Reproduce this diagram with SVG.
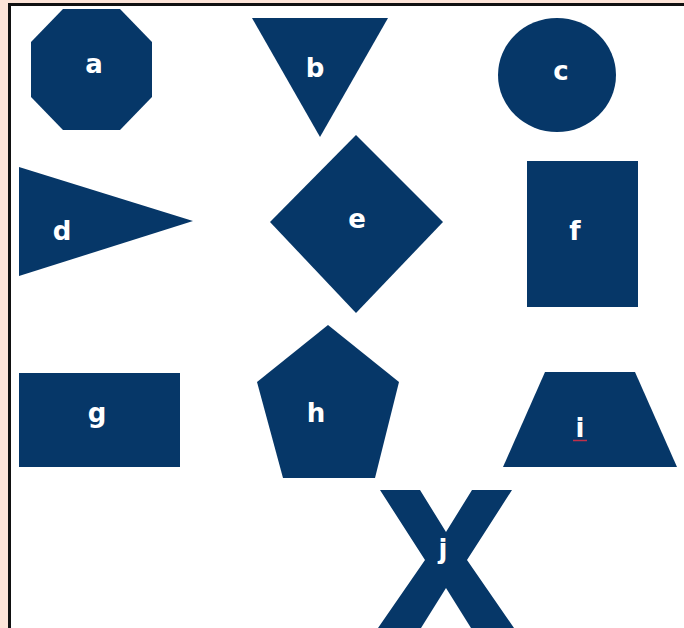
<svg xmlns="http://www.w3.org/2000/svg" width="684" height="628" viewBox="0 0 684 628">
  <style>
    .shape { fill: #063768; }
    .lbl { fill: #ffffff; font-family: "Comic Sans MS", "DejaVu Sans", sans-serif; font-weight: bold; font-size: 26px; text-anchor: middle; }
  </style>
  <rect x="0" y="0" width="684" height="628" fill="#fde4d8"/>
  <rect x="11" y="6" width="673" height="622" fill="#ffffff"/>
  <path d="M9.5,628 V4.5 H684" fill="none" stroke="#111111" stroke-width="3"/>
  <g id="connectors"/>
  <g id="a">
    <polygon class="shape" points="63,9 120,9 152,42 152,97 120,130 63,130 31,97 31,42"/>
    <text class="lbl" x="94" y="73">a</text>
  </g>
  <g id="b">
    <polygon class="shape" points="252,18 388,18 320,137"/>
    <text class="lbl" x="315" y="77">b</text>
  </g>
  <g id="c">
    <ellipse class="shape" cx="557" cy="75" rx="59" ry="57"/>
    <text class="lbl" x="561" y="80">c</text>
  </g>
  <g id="d">
    <polygon class="shape" points="19,167 193,221 19,276"/>
    <text class="lbl" x="62" y="240">d</text>
  </g>
  <g id="e">
    <polygon class="shape" points="356,135 443,222 356,313 270,222"/>
    <text class="lbl" x="357" y="228">e</text>
  </g>
  <g id="f">
    <rect class="shape" x="527" y="161" width="111" height="146"/>
    <text class="lbl" x="575" y="240">f</text>
  </g>
  <g id="g">
    <rect class="shape" x="19" y="373" width="161" height="94"/>
    <text class="lbl" x="97" y="422">g</text>
  </g>
  <g id="h">
    <polygon class="shape" points="328,325 399,382 375,478 283,478 257,382"/>
    <text class="lbl" x="316" y="422">h</text>
  </g>
  <g id="i">
    <polygon class="shape" points="545,372 635,372 677,467 503,467"/>
    <text class="lbl" x="580" y="437">i</text>
    <line x1="573" y1="440.5" x2="587" y2="440.5" stroke="#c0304a" stroke-width="1.5"/>
  </g>
  <g id="j">
    <polygon class="shape" points="380,490 420,490 446,532 472,490 512,490 467,560 514,628 471,628 446,588 421,628 378,628 425,560"/>
    <text class="lbl" x="443" y="558">j</text>
  </g>
</svg>
